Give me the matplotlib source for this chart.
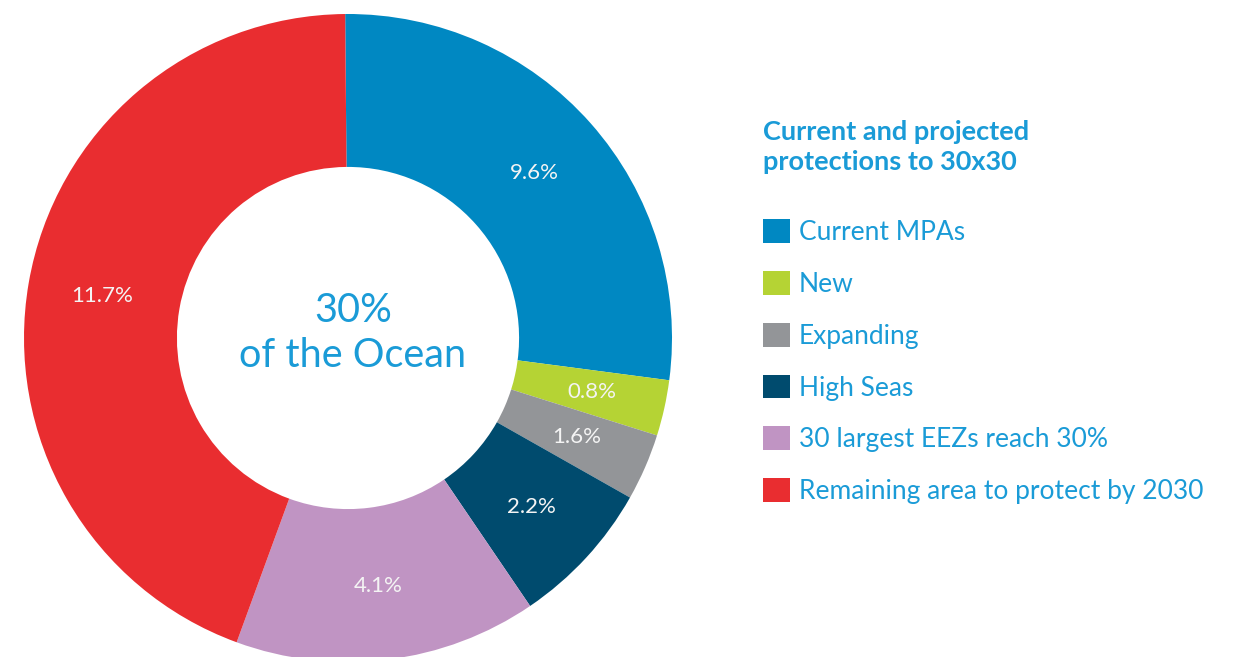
import matplotlib.pyplot as plt

# categories and values as printed on the chart
categories = ['Current MPAs', 'New', 'Expanding', 'High Seas',
              '30 largest EEZs reach 30%', 'Remaining area to protect by 2030']
pct_labels = ['9.6%', '0.8%', '1.6%', '2.2%', '4.1%', '11.7%']
# arc share of each slice as drawn in the picture (degrees)
arc_share = [98.0, 10.0, 12.0, 26.3, 54.3, 159.4]
colors = ['#0088C2', '#B5D334', '#939598', '#004B6E', '#C094C3', '#E92D30']

TEXT_BLUE = '#1A9BD7'

fig = plt.figure(figsize=(12.4, 6.57), dpi=100)
fig.patch.set_facecolor('white')

# square axes holding the donut
W, H = 1240, 657
cx, cy, R = 348, 657 - 338, 324
ax = fig.add_axes([(cx - R) / W, (cy - R) / H, 2 * R / W, 2 * R / H])

wedges, texts = ax.pie(arc_share, colors=colors, labels=pct_labels,
                       startangle=90.5, counterclock=False, radius=1.0,
                       labeldistance=0.77,
                       wedgeprops=dict(width=0.472, linewidth=0),
                       textprops=dict(color='#F4F4F4', fontsize=16,
                                      family='Lato'))
for t in texts:
    t.set_ha('center')
    t.set_va('center')
ax.set_xlim(-1, 1)
ax.set_ylim(-1, 1)
ax.set_aspect('equal')
ax.axis('off')

# centre text
ax.text(0.015, 0.085, '30%', ha='center', va='center', color=TEXT_BLUE,
        fontsize=28.5, family='Lato')
ax.text(0.015, -0.055, 'of the Ocean', ha='center', va='center',
        color=TEXT_BLUE, fontsize=28.5, family='Lato')

# legend title
fig.text(763 / W, 1 - 147 / H, 'Current and projected\nprotections to 30x30',
         ha='left', va='center', color=TEXT_BLUE, fontsize=19.5,
         family='Lato', fontweight='bold', linespacing=1.3)

leg = fig.legend(wedges, categories, loc='upper left',
                 bbox_to_anchor=(755 / W, 1 - 211 / H), frameon=False,
                 handlelength=1.02, handleheight=1.02,
                 handletextpad=0.34, labelspacing=0.98, borderaxespad=0,
                 borderpad=0.3,
                 prop=dict(family='Lato', size=19))
for txt in leg.get_texts():
    txt.set_color(TEXT_BLUE)

fig.savefig('out.png', dpi=100, facecolor='white')
